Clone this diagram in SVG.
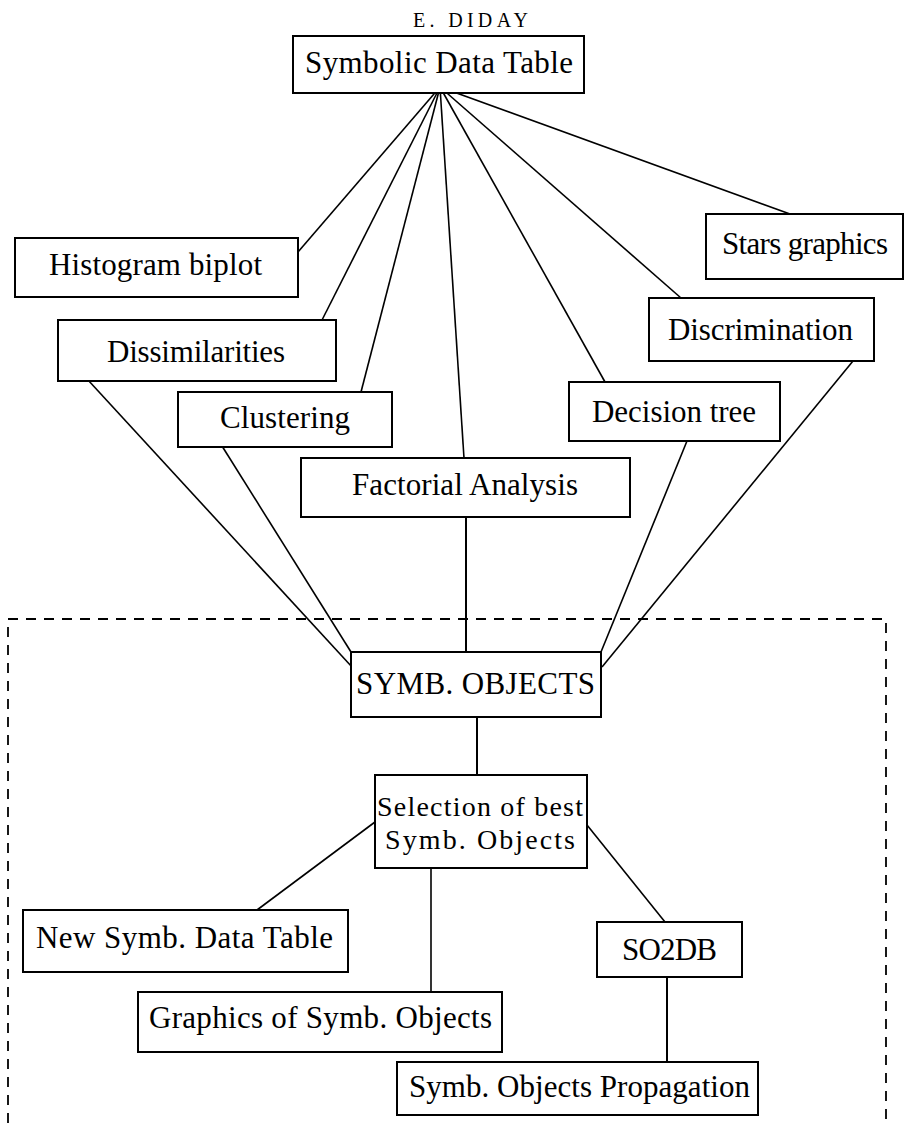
<svg xmlns="http://www.w3.org/2000/svg" width="904" height="1123" viewBox="0 0 904 1123">
<style>
  .box rect { fill: #fff; stroke: #000; stroke-width: 2; }
  text { font-family: "Liberation Serif", "Times New Roman", serif; font-size: 31px; fill: #000; }
  .title { font-size: 20px; }
  .small { font-size: 28px; }
  .conn line { stroke: #000; stroke-width: 1.6; }
  .dash { fill: none; stroke: #000; stroke-width: 1.8; stroke-dasharray: 10 8; }
</style>
<rect width="904" height="1123" fill="#fff"/>
<text class="title" x="413" y="27" textLength="115" lengthAdjust="spacing">E.  DIDAY</text>
<path class="dash" d="M8,1123 V619 H886 V1123"/>
<g id="connectors" class="conn">
  <line x1="440" y1="87" x2="298" y2="252"/>
  <line x1="440" y1="87" x2="321" y2="322"/>
  <line x1="440" y1="87" x2="361" y2="392"/>
  <line x1="440" y1="87" x2="464" y2="458"/>
  <line x1="440" y1="87" x2="605" y2="382"/>
  <line x1="440" y1="87" x2="681" y2="298"/>
  <line x1="440" y1="87" x2="790" y2="214"/>
  <line x1="88" y1="380" x2="352" y2="667"/>
  <line x1="222" y1="446" x2="351" y2="652"/>
  <line x1="466" y1="517" x2="466" y2="652" style="stroke-width:2"/>
  <line x1="687" y1="441" x2="601" y2="652"/>
  <line x1="853" y1="361" x2="602" y2="667"/>
  <line x1="477" y1="717" x2="477" y2="775" style="stroke-width:2"/>
  <line x1="375" y1="822" x2="257" y2="910"/>
  <line x1="431" y1="868" x2="431" y2="992"/>
  <line x1="587" y1="825" x2="665" y2="922"/>
  <line x1="667" y1="977" x2="667" y2="1062" style="stroke-width:2"/>
</g>
<g id="symbolic-data-table" class="box">
  <rect x="293" y="36" width="291" height="57"/>
  <text x="305" y="73" textLength="268">Symbolic Data Table</text>
</g>
<g id="histogram-biplot" class="box">
  <rect x="15" y="238" width="283" height="59"/>
  <text x="49" y="275" textLength="213">Histogram biplot</text>
</g>
<g id="dissimilarities" class="box">
  <rect x="58" y="320" width="278" height="61"/>
  <text x="107" y="362" textLength="178">Dissimilarities</text>
</g>
<g id="clustering" class="box">
  <rect x="178" y="392" width="214" height="55"/>
  <text x="220" y="428" textLength="130">Clustering</text>
</g>
<g id="factorial-analysis" class="box">
  <rect x="301" y="458" width="329" height="59"/>
  <text x="352" y="495" textLength="226">Factorial Analysis</text>
</g>
<g id="stars-graphics" class="box">
  <rect x="706" y="214" width="197" height="65"/>
  <text x="722" y="254" textLength="166">Stars graphics</text>
</g>
<g id="discrimination" class="box">
  <rect x="649" y="298" width="225" height="63"/>
  <text x="668" y="340" textLength="185">Discrimination</text>
</g>
<g id="decision-tree" class="box">
  <rect x="569" y="382" width="211" height="59"/>
  <text x="592" y="422" textLength="164">Decision tree</text>
</g>
<g id="symb-objects" class="box">
  <rect x="351" y="652" width="250" height="65"/>
  <text x="356" y="694" textLength="239">SYMB. OBJECTS</text>
</g>
<g id="selection" class="box">
  <rect x="375" y="775" width="212" height="93"/>
  <text class="small" x="377" y="816" textLength="206">Selection of best</text>
  <text class="small" x="385" y="849" textLength="190">Symb. Objects</text>
</g>
<g id="new-symb-data-table" class="box">
  <rect x="23" y="910" width="325" height="62"/>
  <text x="36" y="948" textLength="297">New Symb. Data Table</text>
</g>
<g id="so2db" class="box">
  <rect x="597" y="922" width="145" height="55"/>
  <text x="622" y="960" textLength="95">SO2DB</text>
</g>
<g id="graphics-symb-objects" class="box">
  <rect x="138" y="992" width="364" height="60"/>
  <text x="149" y="1028" textLength="343">Graphics of Symb. Objects</text>
</g>
<g id="symb-objects-propagation" class="box">
  <rect x="397" y="1062" width="361" height="53"/>
  <text x="409" y="1097" textLength="341">Symb. Objects Propagation</text>
</g>
</svg>
